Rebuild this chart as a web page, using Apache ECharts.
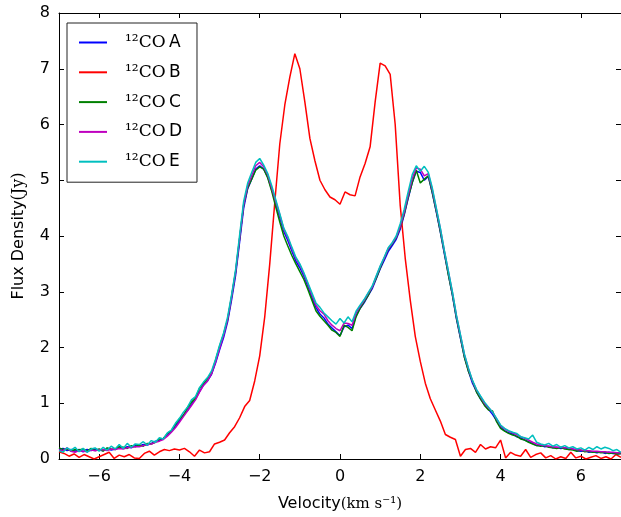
<!DOCTYPE html>
<html>
<head>
<meta charset="utf-8">
<script src="https://cdn.jsdelivr.net/npm/echarts@6/dist/echarts.min.js"></script>
<style>
html,body{margin:0;padding:0;background:#fff;}
#chart{width:621px;height:517px;}
</style>
</head>
<body>
<div id="chart"></div>
<script>
// Channel grids (km/s)
const chanStartAE = -7.0, chanWidthAE = 0.1;
const chanStartB = -7.0, chanWidthB = 0.125;

const seriesNames = ['¹²CO A', '¹²CO B', '¹²CO C', '¹²CO D', '¹²CO E'];
const xTickValues = [-6, -4, -2, 0, 2, 4, 6];
const yTickValues = [0, 1, 2, 3, 4, 5, 6, 7, 8];

const fluxA = [
0.17,0.19,0.15,0.17,0.14,0.17,0.13,0.17,0.15,0.18,
0.16,0.15,0.19,0.16,0.18,0.21,0.19,0.22,0.20,0.24,
0.23,0.26,0.25,0.28,0.32,0.33,0.37,0.43,0.50,0.59,
0.68,0.79,0.87,0.98,1.08,1.21,1.33,1.40,1.52,1.72,
1.96,2.18,2.46,2.86,3.30,3.90,4.50,4.85,5.02,5.20,
5.26,5.20,5.06,4.83,4.58,4.33,4.08,3.92,3.73,3.55,
3.43,3.28,3.10,2.90,2.72,2.60,2.53,2.42,2.35,2.28,
2.21,2.37,2.40,2.34,2.57,2.70,2.80,2.93,3.05,3.23,
3.41,3.56,3.72,3.83,3.94,4.12,4.38,4.68,4.96,5.16,
5.14,5.00,5.07,4.77,4.43,4.07,3.68,3.31,2.94,2.52,
2.17,1.83,1.58,1.36,1.21,1.08,0.97,0.89,0.80,0.69,
0.57,0.51,0.47,0.45,0.40,0.38,0.34,0.31,0.28,0.24,
0.25,0.22,0.23,0.20,0.21,0.19,0.20,0.17,0.18,0.15,
0.14,0.15,0.12,0.13,0.11,0.13,0.10,0.12,0.10,0.09,
0.10];

const fluxB = [
0.13,0.10,0.05,0.09,0.03,0.08,0.04,0.00,
0.04,0.08,0.12,0.01,0.07,0.04,0.08,0.02,
0.01,0.10,0.14,0.07,0.13,0.17,0.15,0.18,
0.16,0.19,0.13,0.05,0.16,0.11,0.13,0.27,
0.30,0.34,0.47,0.58,0.74,0.94,1.05,1.40,
1.85,2.55,3.50,4.60,5.65,6.35,6.85,7.27,
7.00,6.40,5.75,5.35,5.00,4.83,4.70,4.65,
4.57,4.79,4.74,4.72,5.06,5.30,5.60,6.40,
7.10,7.05,6.90,6.00,4.55,3.60,2.85,2.20,
1.75,1.36,1.08,0.88,0.68,0.44,0.39,0.35,
0.05,0.17,0.19,0.12,0.26,0.18,0.22,0.20,
0.34,0.02,0.12,0.07,0.05,0.17,0.03,0.08,
0.11,0.02,0.06,0.00,0.04,0.01,0.12,0.02,
0.05,0.00,0.03,0.06,0.01,0.04,0.00,0.08,
0.03];

const fluxC = [
0.20,0.17,0.18,0.14,0.17,0.16,0.18,0.14,0.19,0.15,
0.18,0.14,0.20,0.18,0.17,0.22,0.21,0.19,0.24,0.22,
0.25,0.23,0.28,0.27,0.30,0.36,0.37,0.46,0.51,0.62,
0.72,0.78,0.92,1.02,1.09,1.27,1.36,1.44,1.54,1.77,
2.02,2.24,2.50,2.92,3.36,3.96,4.56,4.86,5.02,5.18,
5.24,5.20,5.04,4.80,4.52,4.25,4.00,3.82,3.65,3.50,
3.36,3.22,3.04,2.85,2.66,2.56,2.48,2.40,2.31,2.27,
2.20,2.40,2.36,2.30,2.55,2.70,2.82,2.93,3.08,3.24,
3.42,3.60,3.76,3.86,3.97,4.16,4.40,4.70,4.96,5.18,
4.95,5.02,5.08,4.78,4.44,4.08,3.70,3.30,2.95,2.53,
2.18,1.82,1.57,1.40,1.20,1.08,0.96,0.88,0.86,0.67,
0.55,0.50,0.46,0.43,0.41,0.36,0.34,0.30,0.27,0.24,
0.23,0.24,0.21,0.20,0.19,0.21,0.18,0.17,0.16,0.14,
0.16,0.13,0.14,0.12,0.13,0.11,0.12,0.10,0.11,0.09,
0.10];

const fluxD = [
0.16,0.15,0.20,0.14,0.12,0.15,0.14,0.13,0.16,0.15,
0.16,0.17,0.15,0.18,0.17,0.19,0.18,0.20,0.21,0.22,
0.22,0.24,0.26,0.27,0.30,0.32,0.35,0.41,0.48,0.56,
0.66,0.76,0.86,0.96,1.06,1.20,1.32,1.40,1.53,1.74,
1.98,2.22,2.50,2.91,3.36,3.96,4.56,4.90,5.08,5.26,
5.32,5.24,5.10,4.86,4.62,4.38,4.12,3.97,3.77,3.60,
3.48,3.32,3.14,2.94,2.76,2.66,2.60,2.48,2.40,2.34,
2.30,2.44,2.43,2.40,2.62,2.74,2.84,2.97,3.08,3.27,
3.45,3.60,3.77,3.87,3.98,4.17,4.43,4.74,5.03,5.22,
5.20,5.08,5.12,4.83,4.48,4.13,3.73,3.36,2.99,2.57,
2.22,1.87,1.62,1.40,1.24,1.12,1.00,0.92,0.84,0.72,
0.60,0.54,0.50,0.47,0.44,0.40,0.37,0.34,0.30,0.27,
0.25,0.24,0.23,0.22,0.21,0.21,0.20,0.20,0.18,0.17,
0.16,0.15,0.15,0.14,0.14,0.13,0.13,0.12,0.12,0.11,
0.11];

const fluxE = [
0.15,0.12,0.20,0.16,0.21,0.13,0.19,0.12,0.18,0.20,
0.14,0.21,0.16,0.23,0.18,0.26,0.19,0.28,0.21,0.27,
0.26,0.31,0.25,0.33,0.30,0.38,0.36,0.47,0.52,0.64,
0.73,0.84,0.93,1.06,1.12,1.28,1.38,1.46,1.58,1.79,
2.04,2.26,2.55,2.95,3.40,4.02,4.62,4.95,5.14,5.32,
5.39,5.27,5.12,4.90,4.65,4.40,4.14,3.99,3.80,3.62,
3.50,3.34,3.16,2.98,2.80,2.72,2.62,2.55,2.48,2.42,
2.52,2.44,2.55,2.46,2.65,2.76,2.86,2.98,3.10,3.28,
3.46,3.62,3.79,3.88,4.00,4.22,4.48,4.80,5.10,5.26,
5.16,5.25,5.14,4.86,4.50,4.14,3.74,3.37,3.00,2.58,
2.23,1.88,1.63,1.41,1.25,1.13,1.02,0.93,0.84,0.73,
0.61,0.55,0.51,0.48,0.46,0.40,0.38,0.36,0.43,0.30,
0.27,0.25,0.28,0.23,0.26,0.21,0.24,0.20,0.22,0.18,
0.20,0.16,0.21,0.17,0.22,0.18,0.21,0.19,0.15,0.17,
0.12];

const colors = ['#0000ff', '#ff0000', '#008000', '#bf00bf', '#00bfbf'];

function pairs(vals, start, width) {
  return vals.map((f, i) => [+(start + i * width).toFixed(4), f]);
}
const allFlux = [fluxA, fluxB, fluxC, fluxD, fluxE];
const grids = [[chanStartAE, chanWidthAE],[chanStartB, chanWidthB],[chanStartAE, chanWidthAE],[chanStartAE, chanWidthAE],[chanStartAE, chanWidthAE]];

const SANS = 'DejaVu Sans';
const SERIF = 'DejaVu Serif';
const fmt = v => String(v).replace('-', '\u2212');

const tickStyle = { show: true, inside: true, length: 5, lineStyle: { color: '#000', width: 1 } };
const lineStyle = { show: true, onZero: false, lineStyle: { color: '#000', width: 1 } };

const chart = echarts.init(document.getElementById('chart'), null, { renderer: 'canvas' });
chart.setOption({
  animation: false,
  backgroundColor: '#fff',
  grid: { left: 59, top: 13, width: 563, height: 446, containLabel: false },
  xAxis: [
    {
      type: 'value', min: -7, max: 7, position: 'bottom',
      axisLine: lineStyle,
      axisTick: Object.assign({}, tickStyle, { customValues: xTickValues }),
      axisLabel: { customValues: xTickValues, formatter: fmt, color: '#000', fontFamily: SANS, fontSize: 16, margin: 10 },
      splitLine: { show: false },
      name: '{a|Velocity}{b|(km s⁻¹)}',
      nameLocation: 'middle', nameGap: 37,
      nameTextStyle: { rich: { a: { fontFamily: SANS, fontSize: 16, color: '#000' }, b: { fontFamily: SERIF, fontSize: 15, color: '#000' } } }
    },
    {
      type: 'value', min: -7, max: 7, position: 'top',
      axisLine: lineStyle,
      axisTick: Object.assign({}, tickStyle, { customValues: xTickValues }),
      axisLabel: { show: false },
      splitLine: { show: false }
    }
  ],
  yAxis: [
    {
      type: 'value', min: 0, max: 8, interval: 1, position: 'left',
      axisLine: lineStyle,
      axisTick: tickStyle,
      axisLabel: { formatter: fmt, color: '#000', fontFamily: SANS, fontSize: 16, margin: 9 },
      splitLine: { show: false },
      name: '{a|Flux Density}{b|(Jy)}',
      nameLocation: 'middle', nameGap: 32, nameRotate: 90,
      nameTextStyle: { rich: { a: { fontFamily: SANS, fontSize: 16, color: '#000' }, b: { fontFamily: SERIF, fontSize: 16, color: '#000' } } }
    },
    {
      type: 'value', min: 0, max: 8, interval: 1, position: 'right',
      axisLine: lineStyle,
      axisTick: tickStyle,
      axisLabel: { show: false },
      splitLine: { show: false }
    }
  ],
  legend: {
    left: 67, top: 23, orient: 'vertical',
    backgroundColor: '#fff', borderColor: '#222', borderWidth: 1,
    padding: [11, 15, 12, 12],
    itemWidth: 28, itemHeight: 2, itemGap: 12.8, icon: 'rect',
    data: seriesNames,
    formatter: n => '{s|¹²CO} {t|' + n.slice(-1) + '}',
    textStyle: {
      padding: [0, 0, 0, 13],
      rich: {
        s: { fontFamily: SERIF, fontSize: 17, color: '#000', lineHeight: 18 },
        t: { fontFamily: SANS, fontSize: 17, color: '#000', lineHeight: 18 }
      }
    }
  },
  series: allFlux.map((vals, k) => ({
    name: seriesNames[k],
    type: 'line',
    data: pairs(vals, grids[k][0], grids[k][1]),
    symbol: 'none',
    showSymbol: false,
    color: colors[k],
    lineStyle: { color: colors[k], width: 1.5 },
    itemStyle: { color: colors[k] },
    z: 2 + k,
    clip: true
  }))
});
</script>
</body>
</html>
